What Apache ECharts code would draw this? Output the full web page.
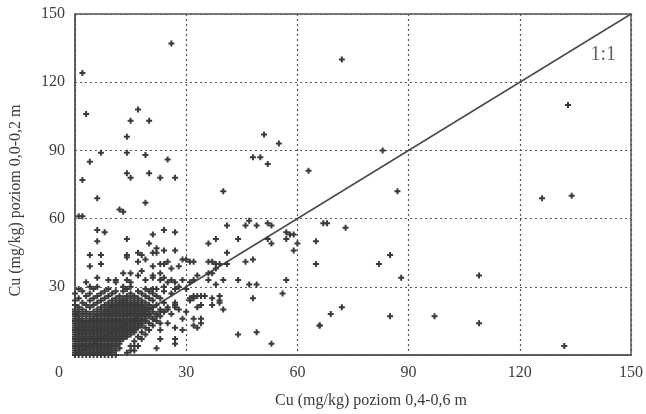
<!DOCTYPE html>
<html>
<head>
<meta charset="utf-8">
<script src="https://cdn.jsdelivr.net/npm/echarts@6/dist/echarts.min.js"></script>
<style>
html, body { margin: 0; padding: 0; background: #fff; }
#chart { width: 646px; height: 414px; }
</style>
</head>
<body>
<div id="chart"></div>
<script>
// dense cluster near the origin: one row per y value, x values in that row
var clusterY = [0, 1, 2, 3, 4, 5, 6, 7, 8, 9, 10, 11, 12, 13, 14, 15, 16, 17, 18, 19, 20, 21, 22, 23, 24, 25, 26, 27, 28, 29];
var clusterX = [
    [0, 1, 2, 3, 4, 5, 6, 7, 8, 9, 10, 11],
    [0, 1, 2, 3, 4, 5, 6, 7, 8, 9, 10, 14],
    [0, 1, 2, 3, 4, 5, 6, 7, 8, 9, 10, 11, 16],
    [0, 1, 2, 3, 4, 5, 6, 7, 8, 9, 10, 12],
    [0, 1, 2, 3, 4, 5, 6, 7, 8, 9, 10, 11, 15, 17],
    [0, 1, 2, 3, 4, 5, 6, 7, 8, 9, 10, 11, 12],
    [0, 1, 2, 3, 4, 5, 6, 7, 8, 9, 10, 11, 12, 16],
    [0, 1, 2, 3, 4, 5, 6, 7, 8, 9, 10, 11, 12, 13, 18],
    [0, 1, 2, 3, 4, 5, 6, 7, 8, 9, 10, 11, 12, 13, 14, 17],
    [0, 1, 2, 3, 4, 5, 6, 7, 8, 9, 10, 11, 12, 13, 14, 15, 19],
    [0, 1, 2, 3, 4, 5, 6, 7, 8, 9, 10, 11, 12, 13, 14, 15, 16, 18],
    [0, 1, 2, 3, 4, 5, 6, 7, 8, 9, 10, 11, 12, 13, 14, 15, 16, 20],
    [0, 1, 2, 3, 4, 5, 6, 7, 8, 9, 10, 11, 12, 13, 14, 15, 16, 17, 19],
    [0, 1, 2, 3, 4, 5, 6, 7, 8, 9, 10, 11, 12, 13, 14, 15, 16, 17, 18, 21],
    [0, 1, 2, 3, 4, 5, 6, 7, 8, 9, 10, 11, 12, 13, 14, 15, 16, 17, 18, 20],
    [0, 1, 2, 3, 4, 5, 6, 7, 8, 9, 10, 11, 12, 13, 14, 15, 16, 17, 18, 19, 22],
    [0, 1, 2, 4, 5, 6, 7, 8, 9, 10, 11, 12, 13, 14, 15, 16, 17, 18, 19, 21],
    [0, 1, 3, 5, 6, 7, 8, 9, 10, 11, 12, 13, 14, 15, 16, 17, 18, 19, 20, 23],
    [0, 2, 4, 6, 7, 8, 9, 10, 11, 12, 13, 14, 15, 16, 17, 18, 19, 20, 22],
    [0, 1, 3, 5, 7, 8, 9, 10, 11, 12, 13, 14, 15, 16, 17, 18, 19, 21, 24],
    [0, 2, 6, 8, 9, 10, 11, 12, 13, 14, 15, 16, 17, 18, 19, 20, 23],
    [1, 4, 7, 9, 10, 11, 12, 13, 14, 15, 16, 17, 18, 19, 21, 25],
    [0, 3, 5, 8, 10, 11, 12, 13, 14, 15, 16, 17, 18, 20, 22],
    [2, 6, 9, 11, 12, 13, 14, 15, 16, 17, 19, 24],
    [0, 4, 7, 10, 12, 13, 14, 16, 18, 21],
    [1, 5, 8, 11, 13, 15, 17, 20, 23],
    [3, 6, 9, 12, 14, 16, 19, 22],
    [0, 4, 7, 10, 15, 18, 21, 26],
    [2, 8, 11, 13, 17, 20, 24],
    [5, 9, 14, 19, 22, 27]
];

// scattered samples outside the dense cluster [x, y]
var scatterPts = [
    [26, 137], [2, 124], [3, 106], [17, 108], [15, 103], [20, 103], [14, 96], [14, 89], [7, 89], [4, 85],
    [19, 88], [25, 86], [2, 77], [14, 80], [15, 78], [20, 80], [23, 78], [27, 78], [6, 69], [19, 67],
    [12, 64], [13, 63], [40, 72], [51, 97], [55, 93], [48, 87], [50, 87], [52, 84], [63, 81],
    [72, 130], [83, 90], [87, 72], [133, 110], [126, 69], [134, 70],
    [73, 56], [67, 58], [68, 58], [82, 40], [85, 44], [88, 34], [109, 35], [72, 21], [69, 18], [66, 13],
    [85, 17], [97, 17], [109, 14], [132, 4],
    [1, 61], [2, 61], [6, 55], [8, 54], [6, 50], [14, 51], [4, 44], [7, 44], [7, 40], [14, 43],
    [17, 45], [17, 41], [19, 42], [21, 53], [20, 49], [22, 47], [22, 45], [24, 55], [27, 54], [24, 46],
    [27, 46], [29, 42], [31, 41], [32, 41], [36, 49], [38, 51], [41, 57], [44, 51], [46, 57], [47, 59],
    [49, 57], [52, 58], [53, 57], [52, 51], [53, 49], [57, 54], [57, 51], [58, 53], [59, 53], [60, 49],
    [59, 46], [41, 45], [46, 41], [48, 42], [41, 40], [36, 41], [37, 41], [38, 40], [39, 40], [44, 33],
    [47, 31], [49, 31], [57, 33], [56, 27], [48, 25], [39, 26], [39, 23], [37, 25], [34, 26], [32, 25],
    [31, 25], [34, 16], [32, 13], [29, 16], [27, 21], [27, 5], [22, 3], [44, 9], [49, 10], [53, 5],
    [66, 13], [65, 50], [65, 40],
    [4, 30], [6, 30], [11, 33], [13, 36], [15, 36], [14, 33], [17, 35], [19, 33], [21, 34], [23, 36],
    [24, 34], [26, 33], [13, 30], [15, 30], [6, 34], [18, 37], [25, 41], [24, 40], [30, 42],
    [21, 35], [23, 33], [25, 32], [27, 32], [28, 30], [30, 29], [31, 32], [32, 33], [33, 35], [36, 36],
    [37, 36], [38, 38], [40, 33], [36, 33], [38, 31], [32, 26], [33, 26], [35, 26], [37, 22],
    [39, 24], [40, 20], [34, 22], [33, 21], [31, 24], [30, 19], [28, 20], [25, 20], [27, 23], [23, 19],
    [21, 16], [25, 14], [23, 11], [27, 12], [29, 11], [32, 16], [34, 14], [33, 12], [23, 14],
    [27, 7], [23, 7], [16, 4], [15, 2], [22, 17], [20, 18], [19, 20], [24, 19], [26, 18], [27, 22],
    [3, 32], [9, 33], [11, 32], [15, 32], [21, 39], [23, 40], [26, 38], [28, 39], [21, 29],
    [24, 30], [29, 33], [4, 39], [1, 29], [21, 45], [14, 44], [18, 44]
];

var lineOneToOne = [[0, 0], [150, 150]];
var lineLabelPos = [[142.5, 132]];

var allPts = [];
for (var i = 0; i < clusterY.length; i++) {
    for (var j = 0; j < clusterX[i].length; j++) {
        allPts.push([clusterX[i][j], clusterY[i]]);
    }
}
for (var k = 0; k < scatterPts.length; k++) {
    allPts.push(scatterPts[k]);
}

var serif = '"Liberation Serif", "DejaVu Serif", serif';
var ink = '#3c3c3c';
var plusPath = 'path://M2,0H4V2H6V4H4V6H2V4H0V2H2Z';

var chart = echarts.init(document.getElementById('chart'));
chart.setOption({
    animation: false,
    backgroundColor: '#fff',
    grid: {
        left: 73,
        right: 15,
        top: 14,
        bottom: 58,
        show: true,
        borderColor: '#555',
        borderWidth: 1.5
    },
    xAxis: {
        type: 'value',
        min: 0,
        max: 150,
        interval: 30,
        name: 'Cu (mg/kg) poziom 0,4-0,6 m',
        nameLocation: 'middle',
        nameGap: 38,
        nameTextStyle: {
            fontFamily: serif,
            fontSize: 16,
            color: ink,
            padding: [0, 0, 0, 36]
        },
        axisLine: {lineStyle: {color: '#555', width: 1.5}},
        axisTick: {show: false},
        axisLabel: {
            margin: 10,
            fontFamily: serif,
            fontSize: 16,
            color: ink,
            formatter: function (v) {
                return v === 0 ? '{z|0}' : String(v);
            },
            rich: {
                z: {
                    fontFamily: serif,
                    fontSize: 16,
                    color: ink,
                    padding: [0, 32, 0, 0]
                }
            }
        },
        splitLine: {
            show: true,
            lineStyle: {color: '#555', type: [2, 3], width: 1.2}
        }
    },
    yAxis: {
        type: 'value',
        min: 0,
        max: 150,
        interval: 30,
        name: 'Cu (mg/kg) poziom 0,0-0,2 m',
        nameLocation: 'middle',
        nameGap: 51,
        nameRotate: 90,
        nameTextStyle: {
            fontFamily: serif,
            fontSize: 16,
            color: ink,
            padding: [0, 32, 0, 0]
        },
        axisLine: {lineStyle: {color: '#555', width: 1.5}},
        axisTick: {show: false},
        axisLabel: {
            margin: 10,
            fontFamily: serif,
            fontSize: 16,
            color: ink,
            showMinLabel: false
        },
        splitLine: {
            show: true,
            lineStyle: {color: '#555', type: [2, 3], width: 1.2}
        }
    },
    series: [
        {
            type: 'line',
            data: lineOneToOne,
            symbol: 'none',
            lineStyle: {color: '#4a4a4a', width: 1.5},
            z: 3
        },
        {
            type: 'scatter',
            data: allPts,
            symbol: plusPath,
            symbolSize: 6,
            itemStyle: {color: '#3a3a3a', opacity: 1},
            z: 4
        },
        {
            type: 'scatter',
            data: lineLabelPos,
            symbolSize: 0,
            label: {
                show: true,
                position: 'inside',
                formatter: '1:1',
                fontFamily: serif,
                fontSize: 20,
                color: ink
            },
            z: 5
        }
    ]
});
</script>
</body>
</html>
